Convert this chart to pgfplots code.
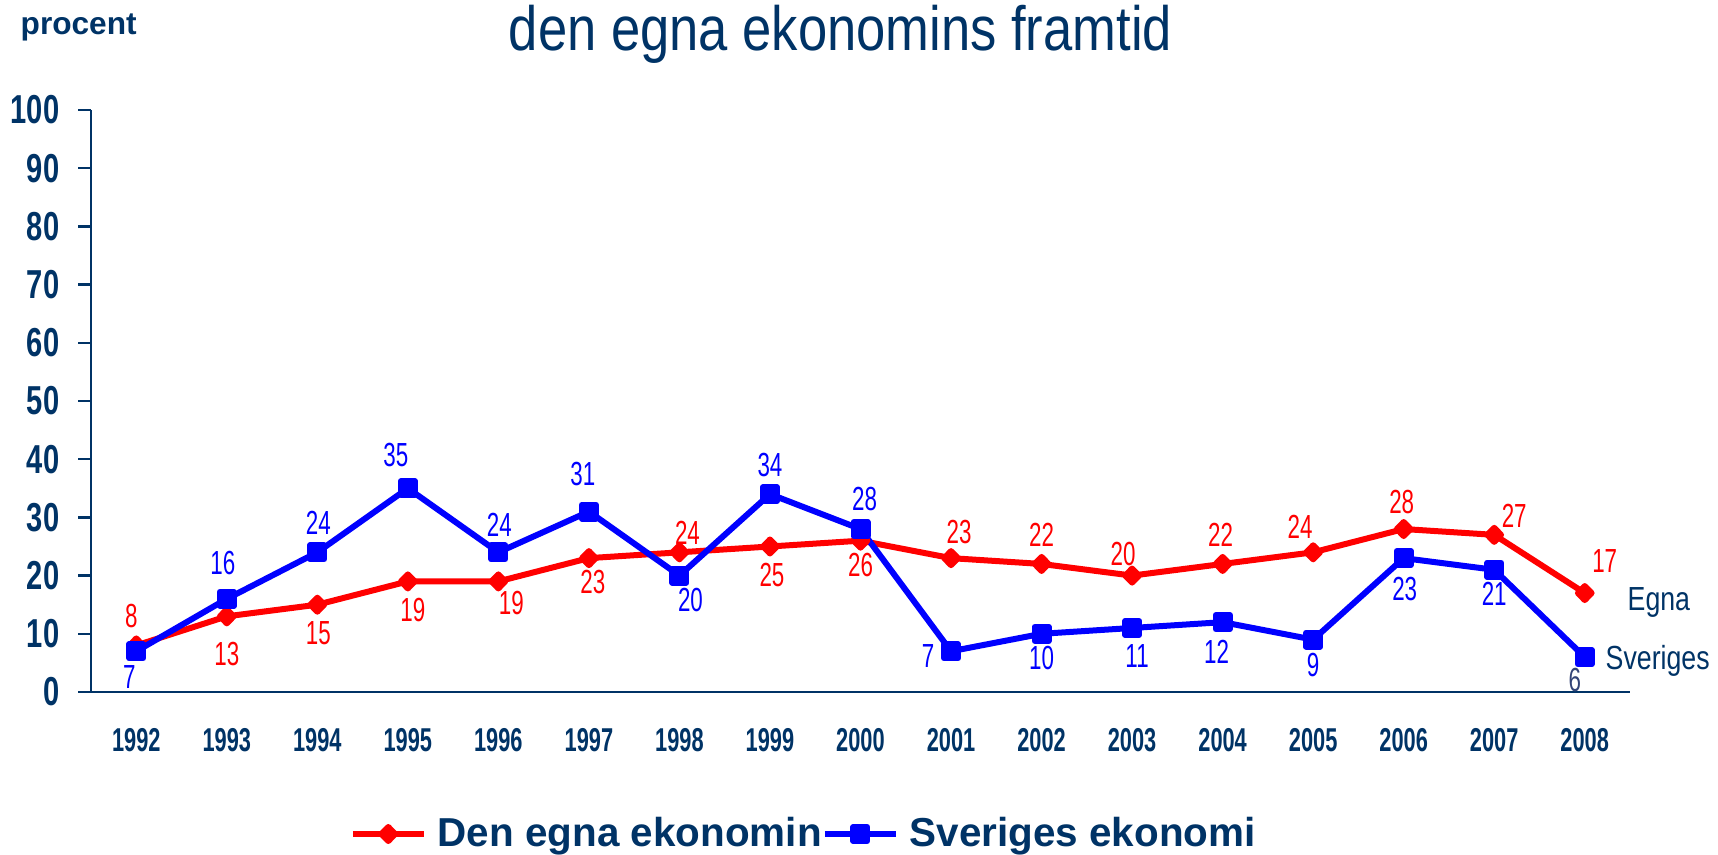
\documentclass[border=0pt]{standalone}
\usepackage{fontspec}
\setmainfont{Liberation Sans}
\usepackage{pgfplots}
\usepackage{pgfplotstable}
\pgfplotsset{compat=1.18}
\newfontfamily\titlefont[FakeStretch=0.84]{Liberation Sans}
\newfontfamily\ytfont[FakeStretch=0.72]{Liberation Sans}
\newfontfamily\yearfont[FakeStretch=0.66]{Liberation Sans}
\newfontfamily\labfont[FakeStretch=0.67]{Liberation Sans}
\newfontfamily\sidefont[FakeStretch=0.8]{Liberation Sans}
\definecolor{navy}{RGB}{0,51,102}
\definecolor{pred}{RGB}{255,0,0}
\definecolor{pblue}{RGB}{0,0,255}
\definecolor{slate}{RGB}{51,68,119}

\pgfplotstableread{
x    y   lab  lx    ly   m
1992 8   8    -0.5  2.9  100
1993 13  13   0.0   -3.8 100
1994 15  15   0.1   -2.8 100
1995 19  19   0.5   -2.85 100
1996 19  19   1.3   -2.2 100
1997 23  23   0.4   -2.4 100
1998 24  24   0.8   1.9  100
1999 25  25   0.2   -2.85 100
2000 26  26   0.0   -2.4 100
2001 23  23   0.8   2.6  100
2002 22  22   0.0   2.9  100
2003 20  20   -0.9  2.2  100
2004 22  22   -0.2  2.9  100
2005 24  24   -1.3  2.5  100
2006 28  28   -0.2  2.7  100
2007 27  27   2.0   1.9  100
2008 17  17   2.0   3.2  100
}\egna

\pgfplotstableread{
x    y   lab  lx    ly   m
1992 7   7    -0.7  -2.6 100
1993 16  16   -0.4  3.6  100
1994 24  24   0.1   2.9  100
1995 35  35   -1.2  3.3  100
1996 24  24   0.1   2.7  100
1997 31  31   -0.6  3.8  100
1998 20  20   1.1   -2.4 100
1999 34  34   0.0   2.9  100
2000 28  28   0.4   3.0  100
2001 7   7    -2.3  -0.5 100
2002 10  10   0.0   -2.4 100
2003 11  11   0.5   -2.8 100
2004 12  12   -0.6  -3.0 100
2005 9   9    0.0   -2.5 100
2006 23  23   0.1   -3.1 100
2007 21  21   0.0   -2.4 100
2008 6   6    -1.0  -2.3 0
}\sverige

\begin{document}
\begin{tikzpicture}
\useasboundingbox (-9.1mm,-16.3mm) rectangle (162.7mm,69.2mm);
\begin{axis}[
  at={(0,0)}, anchor=south west,
  scale only axis, width=153.9mm, height=58.2mm,
  xmin=1991.5, xmax=2008.5, ymin=0, ymax=100,
  axis x line*=bottom, axis y line*=left,
  axis line style={navy, line width=0.25mm},
  clip=false,
  xtick={1992,1993,...,2008},
  ytick={0,10,...,100},
  tick align=outside,
  major tick length=1.3mm,
  xtick style={draw=none},
  ytick style={navy, line width=0.25mm},
  /pgf/number format/1000 sep={},
  /pgf/number format/assume math mode=true,
  yticklabel style={font=\ytfont\bfseries\fontsize{11.5pt}{13pt}\selectfont, text=navy, anchor=east, inner sep=0pt, xshift=-1.8mm},
  xticklabel style={font=\yearfont\bfseries\fontsize{9.4pt}{11pt}\selectfont, text=navy, anchor=base, inner sep=0pt, yshift=-4.6mm},
  legend columns=2,
  legend style={at={(0.4625,-0.244)}, anchor=center, draw=none, fill=none,
    font=\bfseries\fontsize{11.5pt}{13pt}\selectfont, text=navy,
    nodes={inner sep=0pt},
    /tikz/every odd column/.style={column sep=1.1mm},
    /tikz/every even column/.style={column sep=0mm}},
  legend image code/.code={\draw[mark repeat=2,mark phase=2,#1] plot coordinates {(0mm,0mm) (3.55mm,0mm) (7.1mm,0mm)};},
  nodes near coords,
  point meta=explicit symbolic,
  visualization depends on={\thisrow{lx}\as\lblx},
  visualization depends on={\thisrow{ly}\as\lbly},
  visualization depends on={\thisrow{m}\as\lblm},
]
\addplot[pred, line width=0.6mm, line join=round, mark=diamond*, mark size=0.7mm, mark options={xscale=1.3, solid},
  nodes near coords style={font=\labfont\fontsize{9.5pt}{11pt}\selectfont, anchor=center, inner sep=0pt, xshift=\lblx mm, yshift=\lbly mm, text=pred}] table[x=x, y=y, meta=lab]{\egna};
\addlegendentry{Den egna ekonomin}
\addplot[pblue, line width=0.6mm, line join=round, mark=square*, mark size=0.7mm, mark options={solid},
  nodes near coords style={font=\labfont\fontsize{9.5pt}{11pt}\selectfont, anchor=center, inner sep=0pt, xshift=\lblx mm, yshift=\lbly mm, text={pblue!\lblm!slate}}] table[x=x, y=y, meta=lab]{\sverige};
\addlegendentry{Sveriges ekonomi}
\end{axis}
\node[anchor=base, inner sep=0pt, text=navy, font=\titlefont\fontsize{17.8pt}{20pt}\selectfont] at (74.95mm,64.1mm) {den egna ekonomins framtid};
\node[anchor=base west, inner sep=0pt, text=navy, font=\bfseries\fontsize{9pt}{11pt}\selectfont] at (-7.1mm,65.7mm) {procent};
\node[anchor=base west, inner sep=0pt, text=navy, font=\sidefont\fontsize{9.5pt}{11pt}\selectfont] at (153.6mm,8.1mm) {Egna};
\node[anchor=base west, inner sep=0pt, text=navy, font=\sidefont\fontsize{9.5pt}{11pt}\selectfont] at (151.4mm,2.2mm) {Sveriges};
\end{tikzpicture}
\end{document}
